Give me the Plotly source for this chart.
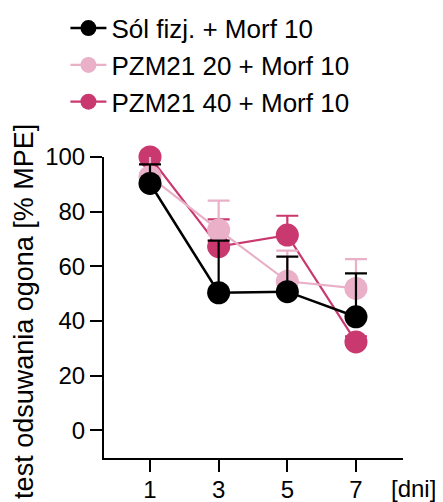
import plotly.graph_objects as go

days = [1, 3, 5, 7]
series_names = ["Sól fizj. + Morf 10", "PZM21 20 + Morf 10", "PZM21 40 + Morf 10"]
sol_mean = [90.3, 50.3, 50.7, 41.5]
sol_err = [7.0, 19.1, 12.8, 15.9]
pzm20_mean = [92.8, 73.3, 54.5, 51.9]
pzm20_err = [7.7, 10.7, 11.2, 10.7]
pzm40_mean = [100.0, 67.2, 71.4, 32.3]
pzm40_err = [2.0, 10.0, 7.1, 2.0]
y_ticks = [0, 20, 40, 60, 80, 100]

FONT = "Liberation Sans, Arial, sans-serif"
colors = ["#000000", "#E9B0C8", "#C9386E"]
widths = [2.5, 2.2, 2.2]

means = [sol_mean, pzm20_mean, pzm40_mean]
errs = [sol_err, pzm20_err, pzm40_err]

fig = go.Figure()
# draw order: dark pink, light pink, black (legend order kept via legendrank)
for idx in [2, 1, 0]:
    fig.add_trace(go.Scatter(
        x=days, y=means[idx], name=series_names[idx],
        mode="lines+markers",
        line=dict(color=colors[idx], width=widths[idx]),
        marker=dict(color=colors[idx], size=23, line=dict(width=0)),
        error_y=dict(type="data", symmetric=False, array=errs[idx],
                     arrayminus=[0] * len(days), color=colors[idx],
                     thickness=2.2, width=11),
        cliponaxis=False,
        legendrank=idx + 1,
    ))

# the page body adds an 8px margin, so the figure is 8px smaller in each direction
fig.update_layout(
    width=435, height=494,
    margin=dict(l=96, r=40, t=149, b=44, autoexpand=False),
    paper_bgcolor="white", plot_bgcolor="white",
    font=dict(family=FONT, size=24, color="black"),
    showlegend=True,
    legend=dict(x=-0.129, y=1.506, xanchor="left", yanchor="top",
                font=dict(size=26, family=FONT, color="black"),
                bgcolor="rgba(0,0,0,0)", tracegroupgap=0,
                itemwidth=36),
    xaxis=dict(range=[-0.34, 8.37], tickvals=days, ticktext=[str(d) for d in days],
               showline=True, linecolor="black", linewidth=2,
               ticks="outside", ticklen=12, tickwidth=2, tickcolor="black",
               showgrid=False, zeroline=False,
               tickfont=dict(size=24, family=FONT), ticklabelstandoff=-3),
    yaxis=dict(range=[-10.2, 100], tickvals=y_ticks,
               showline=True, linecolor="black", linewidth=2,
               ticks="outside", ticklen=12, tickwidth=2, tickcolor="black",
               showgrid=False, zeroline=False,
               tickfont=dict(size=24, family=FONT)),
    annotations=[
        dict(text="test odsuwania ogona [% MPE]", textangle=-90,
             xref="paper", yref="paper", x=-0.266, y=0.487,
             xanchor="center", yanchor="middle", showarrow=False,
             font=dict(size=27, family=FONT, color="black")),
        dict(text="[dni]", xref="paper", yref="paper", x=0.953, y=-0.102,
             xanchor="left", yanchor="middle", showarrow=False,
             font=dict(size=24, family=FONT, color="black")),
    ],
)

fig.write_html("out.html")
